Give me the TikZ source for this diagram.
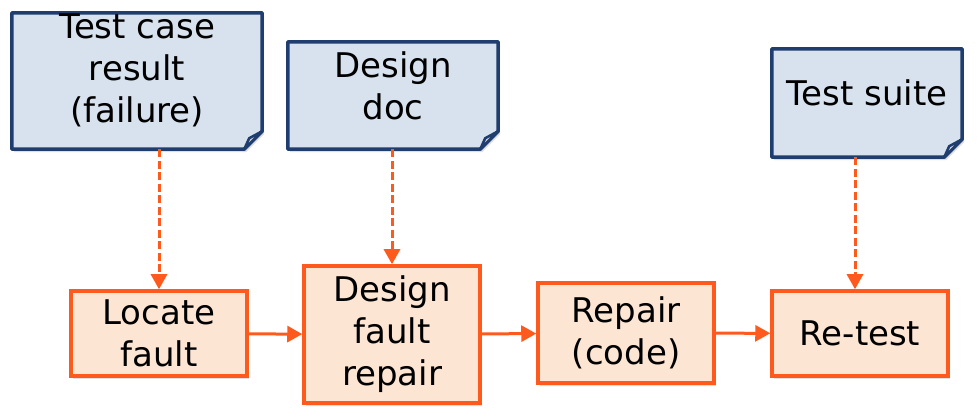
\documentclass[tikz,border=0pt]{standalone}
\usepackage{fontspec}
\setmainfont{DejaVu Sans}
\usepackage{tikz}
\usetikzlibrary{calc,arrows.meta,shadows}
\definecolor{docfill}{RGB}{215,226,238}
\definecolor{docline}{RGB}{31,61,110}
\definecolor{stepfill}{RGB}{253,229,212}
\definecolor{stepline}{RGB}{255,90,30}
\tikzset{
      stepbox/.style={draw=stepline, fill=stepfill, line width=3.5pt, align=center,
                  minimum width=176pt, drop shadow={opacity=0.25, shadow xshift=2pt, shadow yshift=-3pt}},
      docbox/.style={inner sep=0pt},    % outline is drawn by \docframe
      doctext/.style={align=center},
      flow/.style={stepline, line width=3pt, -{Triangle[length=15pt,width=16pt]}},
      feed/.style={flow, dash pattern=on 8pt off 3.5pt}
}
% document outline with a folded corner
\newcommand\docframe[1]{
      \filldraw[draw=docline, fill=docfill, line width=3.5pt, line join=round,
                  drop shadow={opacity=0.25, shadow xshift=2pt, shadow yshift=-3pt}]
            (#1.north west) -- (#1.north east) -- ([yshift=18pt]#1.south east)
            -- ([xshift=-18pt]#1.south east) -- (#1.south west) -- cycle;
      \filldraw[draw=docline, fill=docfill!50!gray!60!white, line width=2.5pt, line join=round]
            ([yshift=18pt]#1.south east) -- ([xshift=-13pt,yshift=11pt]#1.south east)
            -- ([xshift=-18pt]#1.south east) -- cycle;
}
\begin{document}
\begin{tikzpicture}[x=1pt, y=-1pt, font=\fontsize{34}{42}\selectfont]
      \useasboundingbox (0, 0) rectangle (978, 419);
      % input documents
      \node[docbox, minimum width=250pt, minimum height=136pt] (result) at (137, 81) {};
      \node[docbox, minimum width=210pt, minimum height=107pt] (design) at (393, 95.5) {};
      \node[docbox, minimum width=190pt, minimum height=108pt] (suite) at (867, 103) {};
      \docframe{result}
      \docframe{design}
      \docframe{suite}
      \node[doctext] (result-t) at (137, 70) {Test case\\result\\(failure)};
      \node[doctext] (design-t) at (393, 86) {Design\\doc};
      \node[doctext] (suite-t) at (867, 93) {Test suite};
      % process steps
      \node[stepbox, minimum height=85pt] (locate) at (159, 333.5) {Locate\\fault};
      \node[stepbox, minimum height=137pt] (fix) at (392, 334.5) {Design\\fault\\repair};
      \node[stepbox, minimum height=100pt] (repair) at (626, 333) {Repair\\(code)};
      \node[stepbox, minimum height=85pt] (retest) at (860, 333.5) {Re-test};
      % connectors
      \draw[flow] (locate) -- (fix);
      \draw[flow] (fix) -- (repair);
      \draw[flow] (repair) -- (retest);
      \draw[feed] (result.south -| locate.north) -- (locate.north);
      \draw[feed] (design.south -| fix.north) -- (fix.north);
      \draw[feed] ([xshift=-5pt]suite.south -| retest.north) -- ([xshift=-5pt]retest.north);
\end{tikzpicture}
\end{document}
